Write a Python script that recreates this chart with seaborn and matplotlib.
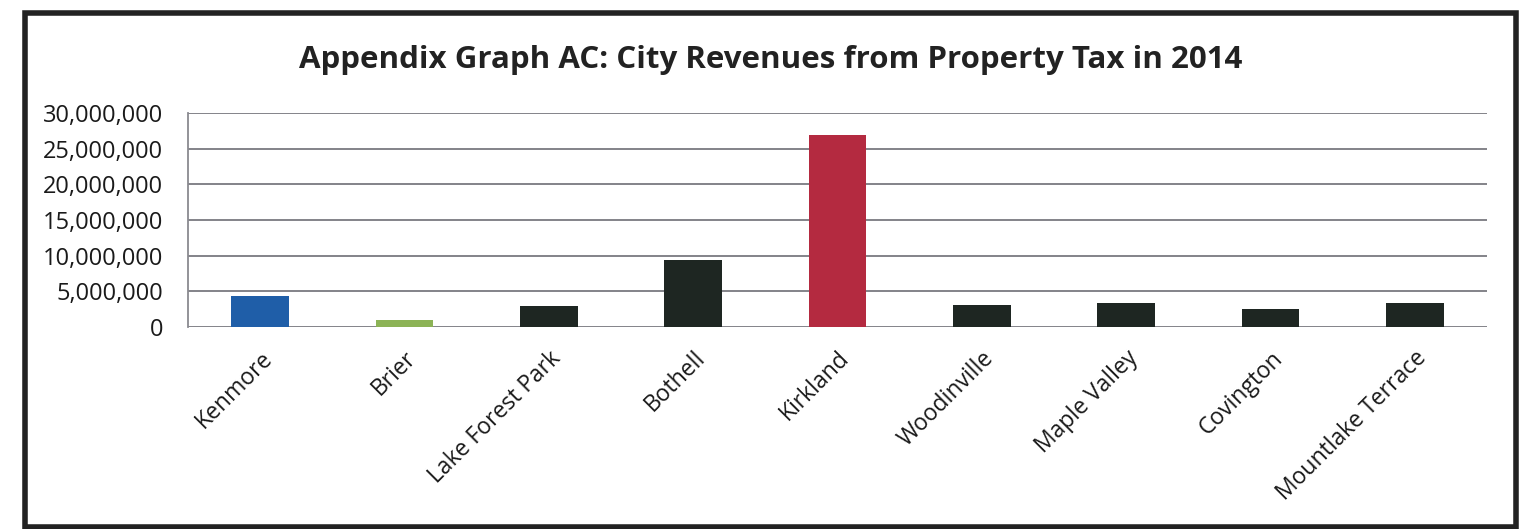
import matplotlib
matplotlib.use("Agg")
import matplotlib.pyplot as plt
import seaborn as sns
import pandas as pd
from matplotlib.patches import Rectangle
from matplotlib.ticker import FuncFormatter

cities = ["Kenmore", "Brier", "Lake Forest Park", "Bothell", "Kirkland",
          "Woodinville", "Maple Valley", "Covington", "Mountlake Terrace"]
revenues = [4300000, 1030000, 2900000, 9440000, 26850000,
            3040000, 3420000, 2520000, 3320000]
bar_colors = ["#1f5ea8", "#8cb356", "#1e2622", "#1e2622", "#b42a40",
              "#1e2622", "#1e2622", "#1e2622", "#1e2622"]
title = "Appendix Graph AC: City Revenues from Property Tax in 2014"
y_ticks = [0, 5000000, 10000000, 15000000, 20000000, 25000000, 30000000]

sns.set_theme(style="white")
plt.rcParams['font.family'] = ['Open Sans', 'DejaVu Sans']

df = pd.DataFrame({"city": cities, "revenue": revenues})

fig = plt.figure(figsize=(15.36, 5.29), dpi=100)
ax = fig.add_axes([0.1224, 0.3819, 0.8457, 0.4045])

sns.barplot(data=df, x="city", y="revenue", hue="city", palette=bar_colors,
            legend=False, width=0.4, ax=ax, saturation=1, linewidth=0)

ax.set_ylim(0, 30000000)
ax.set_yticks(y_ticks)
ax.yaxis.set_major_formatter(FuncFormatter(lambda v, p: f"{int(v):,}"))
ax.set_xlim(-0.5, len(cities) - 0.5)
ax.set_xlabel("")
ax.set_ylabel("")
ax.grid(axis="y", color="#7a7a80", linewidth=1.3)
ax.set_axisbelow(True)
for s in ["top", "right", "bottom"]:
    ax.spines[s].set_visible(False)
ax.spines["left"].set_color("#8a8a90")
ax.spines["left"].set_linewidth(1.3)
ax.tick_params(axis="y", labelsize=17, colors="#1a1a1a", pad=18, length=0)
ax.tick_params(axis="x", labelsize=16.5, colors="#1a1a1a", length=0, pad=14)
for lab in ax.get_xticklabels():
    lab.set_rotation(45)
    lab.set_ha("right")
    lab.set_rotation_mode("anchor")

fig.text(0.5015, 0.887, title, ha="center", va="center", fontsize=22.5,
         fontweight="bold", color="#222222")

fig.patches.append(Rectangle((0.016, 0.004), 0.971, 0.971, transform=fig.transFigure,
                             fill=False, edgecolor="#222222", linewidth=4))

fig.savefig("out.png", dpi=100, facecolor="white")
